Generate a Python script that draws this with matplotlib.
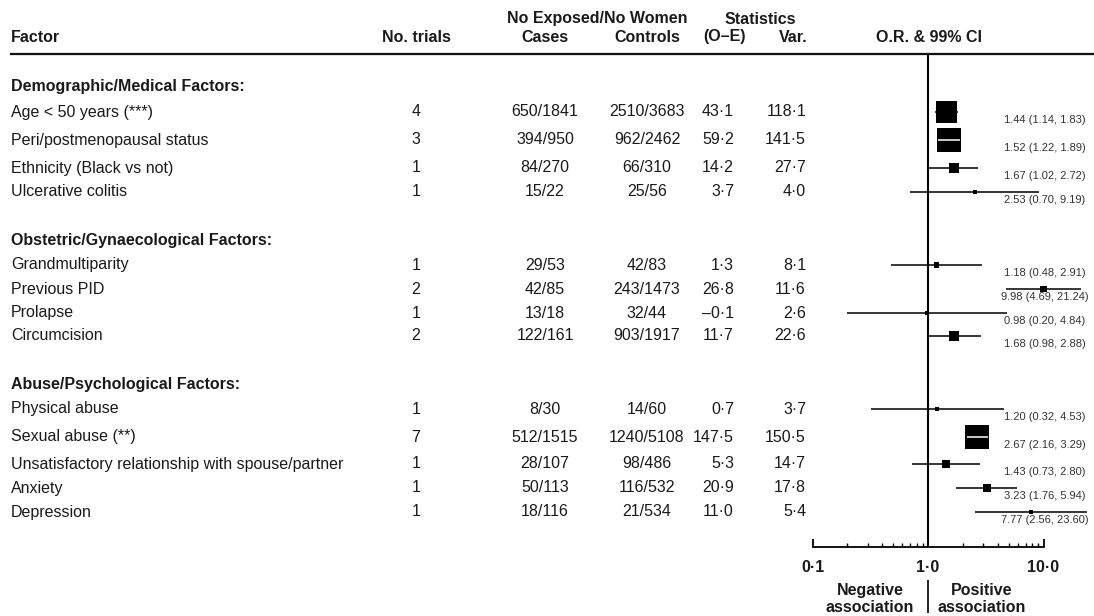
import numpy as np
import matplotlib
matplotlib.use("Agg")
import matplotlib.pyplot as plt

plt.rcParams['font.family'] = ['Liberation Sans', 'DejaVu Sans']
plt.rcParams['text.color'] = '#1a1a1a'

groups = ["Demographic/Medical Factors:",
          "Obstetric/Gynaecological Factors:",
          "Abuse/Psychological Factors:"]
factors = ["Age < 50 years (***)", "Peri/postmenopausal status",
           "Ethnicity (Black vs not)", "Ulcerative colitis",
           "Grandmultiparity", "Previous PID", "Prolapse", "Circumcision",
           "Physical abuse", "Sexual abuse (**)",
           "Unsatisfactory relationship with spouse/partner", "Anxiety",
           "Depression"]
n_trials = [4, 3, 1, 1, 1, 2, 1, 2, 1, 7, 1, 1, 1]
cases = ["650/1841", "394/950", "84/270", "15/22", "29/53", "42/85", "13/18",
         "122/161", "8/30", "512/1515", "28/107", "50/113", "18/116"]
controls = ["2510/3683", "962/2462", "66/310", "25/56", "42/83", "243/1473",
            "32/44", "903/1917", "14/60", "1240/5108", "98/486", "116/532",
            "21/534"]
o_minus_e = [43.1, 59.2, 14.2, 3.7, 1.3, 26.8, -0.1, 11.7, 0.7, 147.5, 5.3,
             20.9, 11.0]
variance = [118.1, 141.5, 27.7, 4.0, 8.1, 11.6, 2.6, 22.6, 3.7, 150.5, 14.7,
            17.8, 5.4]
odds = [1.44, 1.52, 1.67, 2.53, 1.18, 9.98, 0.98, 1.68, 1.20, 2.67, 1.43,
        3.23, 7.77]
ci_lo = [1.14, 1.22, 1.02, 0.70, 0.48, 4.69, 0.20, 0.98, 0.32, 2.16, 0.73,
         1.76, 2.56]
ci_hi = [1.83, 1.89, 2.72, 9.19, 2.91, 21.24, 4.84, 2.88, 4.53, 3.29, 2.80,
         5.94, 23.60]
tick_vals = [0.1, 1.0, 10.0]
tick_labels = ["0·1", "1·0", "10·0"]

# layout (pixel rows, top = 0)
W, H = 1094, 616
group_y = [87, 241, 385]
row_y = [112, 140, 168, 192, 265, 289, 313, 336, 409, 437, 464, 488, 512]
FS = 11.5


def fmt(v):
    s = f"{abs(v):.1f}".replace(".", "·")
    return ("–" + s) if v < 0 else s


fig = plt.figure(figsize=(W / 100, H / 100), dpi=100)
tab = fig.add_axes([0, 0, 1, 1])
tab.set_xlim(0, W)
tab.set_ylim(H, 0)
tab.axis("off")

# header
tab.text(11, 37, "Factor", fontsize=FS, fontweight="bold", va="center")
tab.text(416, 37, "No. trials", fontsize=FS, fontweight="bold", ha="center", va="center")
tab.text(597, 19, "No Exposed/No Women", fontsize=FS, fontweight="bold", ha="center", va="center")
tab.text(545, 37, "Cases", fontsize=FS, fontweight="bold", ha="center", va="center")
tab.text(647, 37, "Controls", fontsize=FS, fontweight="bold", ha="center", va="center")
tab.text(760, 19, "Statistics", fontsize=FS, fontweight="bold", ha="center", va="center")
tab.text(724, 37, "(O–E)", fontsize=FS, fontweight="bold", ha="center", va="center")
tab.text(808, 37, "Var.", fontsize=FS, fontweight="bold", ha="right", va="center")
tab.text(929, 37, "O.R. & 99% CI", fontsize=FS, fontweight="bold", ha="center", va="center")
tab.plot([11, W], [53.5, 53.5], color="#111111", lw=1.6)

for g, y in zip(groups, group_y):
    tab.text(11, y, g, fontsize=FS, fontweight="bold", va="center")

for i, y in enumerate(row_y):
    tab.text(11, y, factors[i], fontsize=FS, va="center")
    tab.text(416, y, str(n_trials[i]), fontsize=FS, ha="center", va="center")
    tab.text(545, y, cases[i], fontsize=FS, ha="center", va="center")
    tab.text(647, y, controls[i], fontsize=FS, ha="center", va="center")
    tab.text(734, y, fmt(o_minus_e[i]), fontsize=FS, ha="right", va="center")
    tab.text(806, y, fmt(variance[i]), fontsize=FS, ha="right", va="center")
    tab.text(1045, y + 8, f"{odds[i]:.2f} ({ci_lo[i]:.2f}, {ci_hi[i]:.2f})",
             fontsize=8, color="#333333", ha="center", va="center")

tab.text(870, 599, "Negative\nassociation", fontsize=FS, fontweight="bold",
         ha="center", va="center", linespacing=1.15)
tab.text(982, 599, "Positive\nassociation", fontsize=FS, fontweight="bold",
         ha="center", va="center", linespacing=1.15)

# forest panel, log scale: 1.0 at x=928 px, one decade = 115.5 px
x0, dec = 928, 115.5
fax = fig.add_axes([780 / W, 0, (W - 780) / W, 1])
fax.set_xscale("log")
fax.set_xlim(10 ** ((780 - x0) / dec), 10 ** ((W - x0) / dec))
fax.set_ylim(H, 0)
fax.patch.set_alpha(0)
for s in ["top", "left", "right"]:
    fax.spines[s].set_visible(False)
fax.spines["bottom"].set_position(("data", 547))
fax.spines["bottom"].set_bounds(0.1, 10)
fax.spines["bottom"].set_linewidth(1.3)
fax.set_yticks([])
fax.set_xticks(tick_vals)
fax.set_xticklabels(tick_labels, fontsize=FS, fontweight="bold", color="#1a1a1a")
fax.set_xticks([k * d for d in (0.1, 1.0) for k in range(2, 10)], minor=True)
fax.set_xticklabels([], minor=True)
fax.tick_params(axis="x", which="major", direction="in", length=6, width=1.3, pad=9)
fax.tick_params(axis="x", which="minor", direction="in", length=3, width=1.0)

fax.vlines(1.0, 55, 547, color="black", lw=1.5)
fax.vlines(1.0, 580, 613, color="black", lw=1.2)

fax.hlines(row_y, ci_lo, ci_hi, color="black", lw=1.1, zorder=2)
sizes = 2.0 * np.array(variance)
fax.scatter(odds, row_y, s=sizes, marker="s", c="black", linewidths=0, zorder=3)

# CI drawn in white where it sits entirely inside its box
for i, y in enumerate(row_y):
    half = np.sqrt(sizes[i]) * 100 / 72 / 2
    px_or = fax.transData.transform((odds[i], y))[0]
    px_lo = fax.transData.transform((ci_lo[i], y))[0]
    px_hi = fax.transData.transform((ci_hi[i], y))[0]
    if px_or - px_lo <= half and px_hi - px_or <= half:
        fax.hlines(y, ci_lo[i], ci_hi[i], color="white", lw=1.1, zorder=4)

fig.savefig("out.png", dpi=100)
